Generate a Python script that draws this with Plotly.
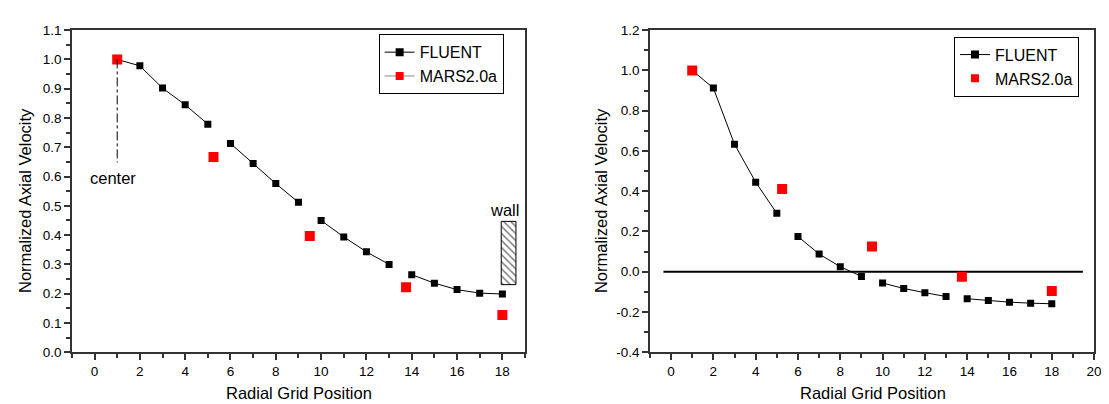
import plotly.graph_objects as go

# ---------------- data ----------------
grid_pos = list(range(1, 19))
fluent_left = [1.000, 0.978, 0.902, 0.845, 0.779, 0.713, 0.645, 0.576, 0.512,
               0.450, 0.394, 0.343, 0.300, 0.265, 0.236, 0.214, 0.202, 0.199]
fluent_right = [1.000, 0.912, 0.633, 0.445, 0.290, 0.175, 0.088, 0.025, -0.023,
                -0.056, -0.083, -0.104, -0.123, -0.134, -0.143, -0.151, -0.156, -0.159]
line_breaks_after = [5, 9, 13]  # FLUENT line is interrupted where MARS points sit

mars_x = [1.0, 5.25, 9.5, 13.75, 18.0]
mars_left = [1.000, 0.667, 0.397, 0.222, 0.127]
mars_right = [1.000, 0.411, 0.126, -0.025, -0.096]

left_yticks = [0.0, 0.1, 0.2, 0.3, 0.4, 0.5, 0.6, 0.7, 0.8, 0.9, 1.0, 1.1]
left_yticktext = ["0.0", "0.1", "0.2", "0.3", "0.4", "0.5", "0.6", "0.7", "0.8", "0.9", "1.0", "1.1"]
right_yticks = [-0.4, -0.2, 0.0, 0.2, 0.4, 0.6, 0.8, 1.0, 1.2]
right_yticktext = ["-0.4", "-0.2", "0.0", "0.2", "0.4", "0.6", "0.8", "1.0", "1.2"]

FONT = "Liberation Sans, Arial, sans-serif"
W, H = 1109, 404
TICK_FS, TITLE_FS, LEG_FS = 13.5, 16.5, 16


def broken(xs, ys, breaks):
    bx, by = [], []
    for xv, yv in zip(xs, ys):
        bx.append(xv)
        by.append(yv)
        if xv in breaks:
            bx.append(None)
            by.append(None)
    return bx, by


fig = go.Figure()

# ---- left panel ----
lx, ly = broken(grid_pos, fluent_left, line_breaks_after)
fig.add_trace(go.Scatter(x=lx, y=ly, mode="lines+markers", xaxis="x", yaxis="y",
                         line=dict(color="black", width=1),
                         marker=dict(symbol="square", size=7, color="black"),
                         connectgaps=False, showlegend=False))
fig.add_trace(go.Scatter(x=mars_x, y=mars_left, mode="markers", xaxis="x", yaxis="y",
                         marker=dict(symbol="square", size=10, color="#ff0000"),
                         showlegend=False))
# legend entries (left)
fig.add_trace(go.Scatter(x=[None], y=[None], mode="lines+markers", name="FLUENT",
                         xaxis="x", yaxis="y", legend="legend",
                         line=dict(color="black", width=1),
                         marker=dict(symbol="square", size=8, color="black")))
fig.add_trace(go.Scatter(x=[None], y=[None], mode="lines+markers", name="MARS2.0a",
                         xaxis="x", yaxis="y", legend="legend",
                         line=dict(color="#888888", width=1),
                         marker=dict(symbol="square", size=8, color="#ff0000")))

# wall (hatched box)
wall_x0, wall_x1, wall_y0, wall_y1 = 17.95, 18.6, 0.231, 0.447
fig.add_trace(go.Scatter(x=[wall_x0, wall_x1, wall_x1, wall_x0, wall_x0],
                         y=[wall_y0, wall_y0, wall_y1, wall_y1, wall_y0],
                         mode="lines", fill="toself", fillcolor="white",
                         fillpattern=dict(shape="\\", fgcolor="black", bgcolor="white",
                                          size=5, solidity=0.3),
                         line=dict(color="black", width=1), xaxis="x", yaxis="y",
                         showlegend=False, hoverinfo="skip"))

# ---- right panel ----
rx, ry = broken(grid_pos, fluent_right, line_breaks_after)
fig.add_trace(go.Scatter(x=[-0.36, 19.47], y=[0, 0], mode="lines", xaxis="x2", yaxis="y2",
                         line=dict(color="black", width=2), showlegend=False,
                         hoverinfo="skip"))
fig.add_trace(go.Scatter(x=rx, y=ry, mode="lines+markers", xaxis="x2", yaxis="y2",
                         line=dict(color="black", width=1),
                         marker=dict(symbol="square", size=7, color="black"),
                         connectgaps=False, showlegend=False))
fig.add_trace(go.Scatter(x=mars_x, y=mars_right, mode="markers", xaxis="x2", yaxis="y2",
                         marker=dict(symbol="square", size=10, color="#ff0000"),
                         showlegend=False))
fig.add_trace(go.Scatter(x=[None], y=[None], mode="lines+markers", name="FLUENT",
                         xaxis="x2", yaxis="y2", legend="legend2",
                         line=dict(color="black", width=1),
                         marker=dict(symbol="square", size=8, color="black")))
fig.add_trace(go.Scatter(x=[None], y=[None], mode="markers", name="MARS2.0a",
                         xaxis="x2", yaxis="y2", legend="legend2",
                         marker=dict(symbol="square", size=8, color="#ff0000")))

AX = "#333333"
common_x = dict(showgrid=False, zeroline=False, showline=True, linecolor=AX, linewidth=1.5,
                mirror=True, ticks="outside", ticklen=6, tickwidth=1.5, tickcolor=AX,
                tickfont=dict(family=FONT, size=TICK_FS, color="black"), dtick=2, tick0=0,
                ticklabeloverflow="allow",
                minor=dict(ticks="outside", ticklen=4, tickwidth=1.5, tickcolor=AX, dtick=1))
common_y = dict(showgrid=False, zeroline=False, showline=True, linecolor=AX, linewidth=1.5,
                mirror=True, ticks="outside", ticklen=6, tickwidth=1.5, tickcolor=AX,
                tickfont=dict(family=FONT, size=TICK_FS, color="black"), tickmode="array")

ydom = [1 - 350.3 / H, 1 - 15.7 / H]
fig.update_layout(
    width=W, height=H, margin=dict(l=0, r=0, t=0, b=0),
    paper_bgcolor="white", plot_bgcolor="white",
    font=dict(family=FONT, color="black"),
    xaxis=dict(domain=[64.3 / W, 520.3 / W], range=[-1, 19], anchor="y", **common_x),
    yaxis=dict(domain=ydom, range=[0, 1.1], anchor="x", tickvals=left_yticks,
               ticktext=left_yticktext,
               minor=dict(ticks="outside", ticklen=4, tickwidth=1.5, tickcolor=AX,
                          tickvals=[v + 0.05 for v in left_yticks[:-1]]),
               **common_y),
    xaxis2=dict(domain=[646.0 / W, 1093.0 / W], range=[-1, 20.001], anchor="y2", **common_x),
    yaxis2=dict(domain=ydom, range=[-0.4, 1.2], anchor="x2", tickvals=right_yticks,
                ticktext=right_yticktext,
                minor=dict(ticks="outside", ticklen=4, tickwidth=1.5, tickcolor=AX,
                           tickvals=[v + 0.1 for v in right_yticks[:-1]]),
                **common_y),
    legend=dict(x=373 / W, y=1 - 20 / H, xanchor="left", yanchor="top",
                bordercolor="black", borderwidth=1, bgcolor="white",
                font=dict(family=FONT, size=LEG_FS, color="black"), tracegroupgap=0),
    legend2=dict(x=952 / W, y=1 - 22.5 / H, xanchor="left", yanchor="top",
                 bordercolor="black", borderwidth=1, bgcolor="white",
                 font=dict(family=FONT, size=LEG_FS, color="black"), tracegroupgap=0),
    shapes=[
        dict(type="line", xref="x", yref="y", x0=1, x1=1, y0=1.0, y1=0.648,
             line=dict(color="black", width=1, dash="dashdot")),
    ],
    annotations=[
        dict(text="center", xref="x", yref="y", x=0.81, y=0.596, showarrow=False,
             xanchor="center", yanchor="middle",
             font=dict(family=FONT, size=TITLE_FS, color="black")),
        dict(text="wall", xref="x", yref="y", x=18.1, y=0.485, showarrow=False,
             xanchor="center", yanchor="middle",
             font=dict(family=FONT, size=TITLE_FS, color="black")),
        dict(text="Normalized Axial Velocity", xref="paper", yref="paper",
             x=17.3 / W, y=1 - 193 / H, textangle=-90, showarrow=False,
             xanchor="center", yanchor="middle",
             font=dict(family=FONT, size=TITLE_FS, color="black")),
        dict(text="Normalized Axial Velocity", xref="paper", yref="paper",
             x=597 / W, y=1 - 193 / H, textangle=-90, showarrow=False,
             xanchor="center", yanchor="middle",
             font=dict(family=FONT, size=TITLE_FS, color="black")),
        dict(text="Radial Grid Position", xref="paper", yref="paper",
             x=293 / W, y=1 - 393 / H, showarrow=False,
             xanchor="center", yanchor="middle",
             font=dict(family=FONT, size=TITLE_FS, color="black")),
        dict(text="Radial Grid Position", xref="paper", yref="paper",
             x=870 / W, y=1 - 393 / H, showarrow=False,
             xanchor="center", yanchor="middle",
             font=dict(family=FONT, size=TITLE_FS, color="black")),
    ],
)

fig.write_html("out.html")
